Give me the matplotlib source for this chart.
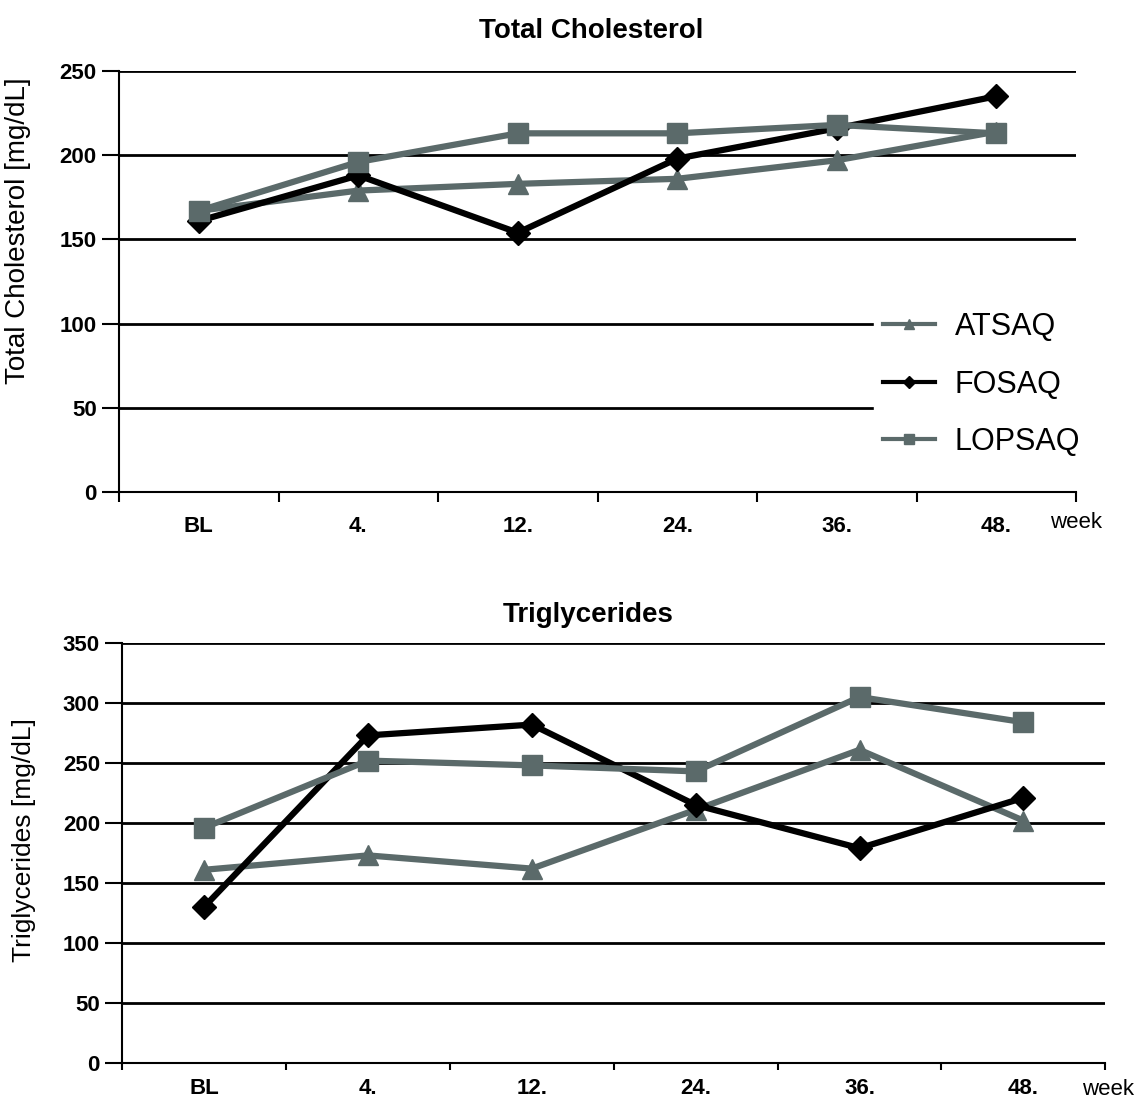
import matplotlib.pyplot as plt
import numpy as np

plt.rcParams['font.family'] = ['Liberation Sans', 'DejaVu Sans']

weeks = ["BL", "4.", "12.", "24.", "36.", "48."]
series = ["ATSAQ", "FOSAQ", "LOPSAQ"]

# Total Cholesterol [mg/dL]
chol_atsaq = [167, 179, 183, 186, 197, 214]
chol_fosaq = [161, 188, 154, 198, 216, 235]
chol_lopsaq = [167, 196, 213, 213, 218, 213]

# Triglycerides [mg/dL]
trig_atsaq = [161, 173, 162, 211, 261, 202]
trig_fosaq = [130, 273, 282, 215, 179, 221]
trig_lopsaq = [196, 252, 248, 243, 305, 284]

gray = '#5b6a6a'
styles = {
    "ATSAQ": dict(color=gray, marker='^', ms=15),
    "FOSAQ": dict(color='black', marker='D', ms=12),
    "LOPSAQ": dict(color=gray, marker='s', ms=15),
}

fig = plt.figure(figsize=(11.36, 11.01), dpi=100)
ax1 = fig.add_axes([0.1048, 0.5531, 0.8424, 0.3824])
ax2 = fig.add_axes([0.1075, 0.0345, 0.8655, 0.3815])


def style_axes(ax, ymax, ystep, xpad, minor_len):
    x = np.arange(len(weeks))
    ax.set_xlim(-0.5, len(weeks) - 0.5)
    ax.set_ylim(0, ymax)
    ax.set_yticks(np.arange(0, ymax + 1, ystep))
    ax.set_xticks(x)
    ax.set_xticklabels(weeks)
    ax.set_xticks(np.arange(-0.5, len(weeks)), minor=True)
    ax.tick_params(axis='x', which='major', length=0, pad=xpad, labelsize=16)
    ax.tick_params(axis='x', which='minor', length=minor_len, width=1.5, direction='out')
    ax.tick_params(axis='y', length=12, width=1.5, direction='out', pad=4, labelsize=16)
    for lab in ax.get_xticklabels() + ax.get_yticklabels():
        lab.set_fontweight('bold')
    for s in ['top', 'right']:
        ax.spines[s].set_visible(False)
    for s in ['left', 'bottom']:
        ax.spines[s].set_linewidth(1.5)
    for yv in np.arange(ystep, ymax + 1, ystep):
        ax.axhline(yv, color='black', lw=2, zorder=1)


x = np.arange(len(weeks))
for name, vals in zip(series, [chol_atsaq, chol_fosaq, chol_lopsaq]):
    ax1.plot(x, vals, lw=4.5, label=name, zorder=3, **styles[name])
for name, vals in zip(series, [trig_atsaq, trig_fosaq, trig_lopsaq]):
    ax2.plot(x, vals, lw=4.5, label=name, zorder=3, **styles[name])

style_axes(ax1, 250, 50, 17, 7)
style_axes(ax2, 350, 50, 11, 5)

ax1.set_ylabel("Total Cholesterol [mg/dL]", fontsize=20)
ax2.set_ylabel("Triglycerides [mg/dL]", fontsize=19)
ax1.yaxis.set_label_coords(-0.092, 0.62)
ax2.yaxis.set_label_coords(-0.088, 0.53)

fig.text(0.52, 0.972, "Total Cholesterol", ha='center', va='center', fontsize=20, fontweight='bold')
fig.text(0.518, 0.441, "Triglycerides", ha='center', va='center', fontsize=20, fontweight='bold')

ax1.text(1.0, -0.072, "week", transform=ax1.transAxes, ha='center', va='center', fontsize=16)
ax2.text(1.003, -0.062, "week", transform=ax2.transAxes, ha='center', va='center', fontsize=16)

leg = ax1.legend(loc='center right', bbox_to_anchor=(1.03, 0.255), frameon=True,
                 fontsize=22, markerscale=0.5, handlelength=1.7, labelspacing=0.9,
                 borderpad=0.3, handletextpad=0.65)
leg.get_frame().set_facecolor('white')
leg.get_frame().set_edgecolor('white')
leg.get_frame().set_alpha(1)
leg.set_zorder(5)
for line in leg.get_lines():
    line.set_linewidth(3)

fig.savefig("out.png", dpi=100)
